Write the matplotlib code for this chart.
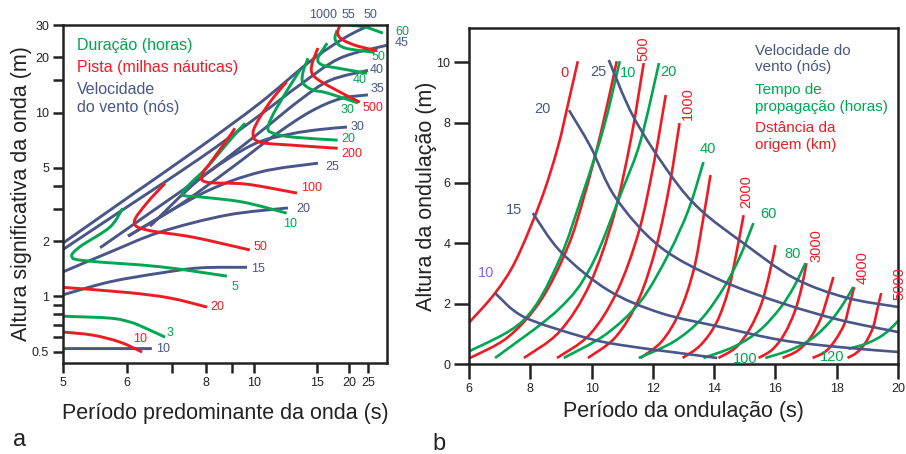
import numpy as np
import matplotlib
matplotlib.use("Agg")
import matplotlib.pyplot as plt
from matplotlib.ticker import FixedLocator, FixedFormatter, NullLocator
from matplotlib.path import Path
from matplotlib.patches import PathPatch
from matplotlib.transforms import IdentityTransform

plt.rcParams['font.family'] = ['Liberation Sans', 'DejaVu Sans']

VERM = '#ed1c24'
VERDE = '#00a651'
AZUL = '#4a5687'
LILAS = '#7f69e6'

# ---------------- (a) periodo predominante x altura significativa ----------------
# velocidade do vento (nos)
a_vento_nos = [10, 15, 20, 25, 30, 35, 40, 45, 50]
a_vento_T = [[5.0, 5.8, 6.52],
             [5.0, 5.70, 6.71, 7.81, 9.67],
             [5.0, 5.70, 6.71, 8.77, 12.2],
             [6.03, 7.90, 10.35, 15.1],
             [6.48, 7.81, 9.92, 12.36, 15.35, 19.6],
             [6.03, 7.21, 8.90, 11.27, 14.2, 18.3, 25.0],
             [5.54, 6.48, 8.14, 10.35, 13.2, 16.7, 25.0],
             [5.0, 6.07, 7.81, 10.35, 13.2, 18.3, 33.9],
             [5.0, 6.07, 7.81, 10.35, 14.2, 19.2, 25.7]]
a_vento_H = [[0.52, 0.52, 0.52],
             [1.02, 1.20, 1.34, 1.43, 1.44],
             [1.36, 1.74, 2.24, 2.77, 3.03],
             [2.13, 3.65, 4.75, 5.31],
             [2.41, 4.37, 6.67, 7.64, 8.1, 8.35],
             [2.13, 3.15, 4.94, 7.57, 10.1, 11.9, 12.5],
             [1.84, 2.85, 4.83, 7.84, 11.7, 15.0, 17.0],
             [1.80, 3.15, 5.65, 9.72, 14.15, 19.8, 23.35],
             [1.95, 3.52, 6.5, 11.3, 19.0, 25.6, 30.0]]

# duracao (horas)
a_duracao_h = [3, 5, 10, 20, 30, 40, 50, 60]
a_duracao_T = [[5.0, 5.70, 6.07, 6.33, 6.83],
               [5.93, 5.70, 5.23, 5.12, 5.34, 6.71, 8.77],
               [9.57, 8.90, 8.04, 7.41, 7.30, 7.81, 9.47, 12.1],
               [13.2, 11.4, 10.82, 11.13, 12.6, 17.9],
               [14.0, 13.5, 13.5, 14.5, 16.3, 22.1],
               [16.3, 15.1, 15.6, 17.8, 24.7],
               [17.8, 17.5, 19.2, 27.5],
               [19.8, 24.1, 31.1]]
a_duracao_H = [[0.78, 0.762, 0.725, 0.681, 0.600],
               [3.02, 2.38, 1.86, 1.64, 1.56, 1.45, 1.29],
               [8.77, 7.09, 5.05, 3.94, 3.56, 3.48, 3.26, 2.84],
               [17.0, 10.7, 8.36, 7.74, 7.36, 7.09],
               [19.8, 16.6, 14.5, 13.3, 12.8, 11.3],
               [23.9, 19.8, 18.2, 17.5, 16.4],
               [28.1, 24.9, 22.5, 21.3],
               [30.0, 29.25, 27.1]]

# pista (milhas nauticas)
a_pista_mn = [10, 20, 50, 100, 200, 500, 1000]
a_pista_T = [[5.0, 5.43, 5.88, 6.31],
             [5.0, 6.02, 6.95, 8.04],
             [6.83, 6.41, 6.15, 6.41, 7.59, 9.81],
             [9.11, 8.77, 8.14, 7.87, 8.04, 9.66, 12.95],
             [12.1, 11.13, 10.35, 9.97, 10.35, 12.6, 17.9],
             [15.1, 14.4, 14.55, 16.3, 22.6],
             [18.3, 17.9, 18.8, 22.1, 28.4]]
a_pista_H = [[0.64, 0.615, 0.564, 0.498],
             [1.12, 1.05, 0.98, 0.875],
             [4.13, 3.22, 2.54, 2.30, 2.10, 1.79],
             [8.23, 7.09, 5.31, 4.58, 4.18, 4.08, 3.65],
             [14.7, 12.0, 9.45, 7.74, 6.91, 6.65, 6.40],
             [22.5, 18.2, 16.0, 14.1, 11.4],
             [30.0, 27.0, 24.9, 23.0, 21.8]]

a_xticks = [5, 6, 7, 8, 9, 10, 15, 20, 25]
a_xticklabels = ['5', '6', '', '8', '', '10', '15', '20', '25']
a_yticks = [0.5, 0.6, 0.7, 0.8, 0.9, 1, 2, 3, 4, 5, 10, 15, 20, 30]
a_yticklabels = ['0.5', '', '', '', '', '1', '2', '', '', '5', '10', '', '20', '30']

# ---------------- (b) periodo da ondulacao x altura da ondulacao ----------------
b_vento_nos = [10, 15, 20, 25]
b_vento_T = [[6.85, 7.79, 9.75, 10.95, 12.9, 14.1],
             [8.08, 9.0, 10.53, 12.25, 14.2, 16.2, 18.1, 20.0],
             [9.26, 9.97, 10.79, 12.25, 14.2, 16.2, 18.1, 20.0],
             [10.56, 11.37, 12.58, 13.56, 14.96, 16.6, 18.3, 20.0]]
b_vento_H = [[2.35, 1.56, 0.89, 0.63, 0.36, 0.20],
             [5.0, 3.71, 2.45, 1.69, 1.23, 0.79, 0.56, 0.40],
             [8.41, 7.19, 5.5, 3.87, 2.78, 2.02, 1.46, 1.06],
             [10.07, 8.18, 6.26, 5.1, 4.0, 2.85, 2.2, 1.89]]

# tempo de propagacao (horas)
b_tempo_h = [10, 20, 40, 60, 80, 100, 120]
b_tempo_T = [[6.03, 7.79, 8.9, 9.75, 10.4, 10.92],
             [6.85, 8.9, 9.97, 11.0, 11.6, 12.2],
             [9.09, 10.46, 11.60, 12.51, 13.17, 13.65],
             [11.54, 12.68, 13.59, 14.34, 14.86, 15.28],
             [13.65, 14.66, 15.48, 16.16, 16.62, 16.98],
             [15.67, 16.52, 17.24, 17.82, 18.21, 18.54],
             [18.38, 19.0, 19.52, 19.94, 20.23, 20.46]]
b_tempo_H = [[0.43, 1.46, 3.34, 5.76, 7.85, 10.03],
             [0.2, 1.79, 3.21, 5.76, 7.4, 9.97],
             [0.2, 0.98, 2.08, 3.64, 5.13, 6.69],
             [0.2, 0.74, 1.50, 2.57, 3.60, 4.67],
             [0.2, 0.58, 1.11, 1.86, 2.59, 3.34],
             [0.2, 0.48, 0.88, 1.45, 1.99, 2.55],
             [0.5, 0.69, 0.97, 1.36, 1.73, 2.12]]

# distancia da origem (km)
b_dist_km = [0, 250, 500, 750, 1000, 1500, 2000, 2500, 3000, 3500, 4000, 4500]
b_dist_T = [[6.0, 6.85, 7.53, 8.35, 8.90, 9.26, 9.55],
            [6.03, 7.27, 8.35, 9.22, 9.75, 10.3, 10.82],
            [7.79, 8.96, 9.94, 10.72, 11.28, 11.70],
            [8.87, 9.94, 10.82, 11.54, 12.03, 12.42],
            [9.88, 10.79, 11.54, 12.12, 12.55, 12.87],
            [11.60, 12.29, 12.87, 13.33, 13.62, 13.88],
            [12.97, 13.56, 14.08, 14.47, 14.73, 14.96],
            [14.14, 14.70, 15.15, 15.54, 15.80, 16.0],
            [15.45, 15.90, 16.29, 16.62, 16.85, 17.01],
            [16.23, 16.72, 17.14, 17.47, 17.69, 17.89],
            [17.21, 17.63, 17.95, 18.25, 18.41, 18.57],
            [18.35, 18.67, 18.96, 19.19, 19.32, 19.45]]
b_dist_H = [[1.37, 2.35, 3.44, 5.43, 7.19, 8.74, 10.03],
            [0.2, 0.89, 2.12, 3.87, 5.53, 7.65, 10.03],
            [0.2, 1.08, 2.64, 4.89, 7.43, 9.97],
            [0.2, 0.98, 2.38, 4.38, 6.64, 8.91],
            [0.2, 0.90, 2.15, 3.93, 5.96, 7.98],
            [0.2, 0.75, 1.72, 3.11, 4.68, 6.26],
            [0.2, 0.63, 1.38, 2.47, 3.70, 4.93],
            [0.2, 0.54, 1.14, 1.99, 2.97, 3.94],
            [0.2, 0.48, 0.99, 1.71, 2.52, 3.34],
            [0.2, 0.44, 0.87, 1.49, 2.18, 2.88],
            [0.2, 0.41, 0.79, 1.33, 1.94, 2.55],
            [0.2, 0.39, 0.74, 1.23, 1.79, 2.35]]


def inv_t(t):
    t = np.asarray(t, dtype=float)
    with np.errstate(divide='ignore'):
        return -1.0 / t


def curva(ax, T, H, cor, lw):
    # traço suave (Catmull-Rom) passando pelos pontos lidos, em coordenadas de tela
    p = ax.transData.transform(np.column_stack([T, H]))
    n = len(p)
    verts = [p[0]]
    codes = [Path.MOVETO]
    for i in range(n - 1):
        p0, p1 = p[max(i - 1, 0)], p[i]
        p2, p3 = p[i + 1], p[min(i + 2, n - 1)]
        verts += [p1 + (p2 - p0) / 6.0, p2 - (p3 - p1) / 6.0, p2]
        codes += [Path.CURVE4] * 3
    patch = PathPatch(Path(verts, codes), facecolor='none', edgecolor=cor, lw=lw,
                      transform=IdentityTransform(), capstyle='butt', joinstyle='round')
    patch.set_clip_path(ax.patch)
    ax.add_artist(patch)


fig = plt.figure(figsize=(9.06, 4.54), dpi=100)

# ===== painel a =====
ax = fig.add_axes([0.0695, 0.2004, 0.3576, 0.7445])
ax.set_xscale('function', functions=(inv_t, inv_t))
ax.set_yscale('log')
ax.set_xlim(5, 33.3)
ax.set_ylim(0.434, 30)

for T, H in zip(a_vento_T, a_vento_H):
    curva(ax, T, H, AZUL, 2.1)
for T, H in zip(a_duracao_T, a_duracao_H):
    curva(ax, T, H, VERDE, 2.1)
for T, H in zip(a_pista_T, a_pista_H):
    curva(ax, T, H, VERM, 2.1)

rot_a = [('1000', 15.7, 34.0, AZUL), ('55', 19.8, 34.0, AZUL), ('50', 25.7, 34.0, AZUL),
         ('60', 45.2, 27.4, VERDE), ('45', 45.2, 23.9, AZUL),
         ('50', 28.8, 20.1, VERDE), ('40', 28.4, 17.0, AZUL), ('40', 22.6, 15.0, VERDE),
         ('35', 28.4, 13.4, AZUL), ('30', 19.8, 10.3, VERDE), ('500', 26.8, 10.6, VERM),
         ('30', 22.1, 8.35, AZUL), ('20', 19.8, 7.18, VERDE), ('200', 20.7, 5.95, VERM),
         ('25', 17.0, 5.06, AZUL), ('100', 14.4, 3.89, VERM), ('20', 13.5, 2.99, AZUL),
         ('10', 12.36, 2.48, VERDE), ('50', 10.35, 1.85, VERM), ('15', 10.24, 1.41, AZUL),
         ('5', 9.11, 1.12, VERDE), ('20', 8.39, 0.875, VERM), ('3', 6.95, 0.632, VERDE),
         ('10', 6.27, 0.586, VERM), ('10', 6.78, 0.517, AZUL)]
for txt, T, H, c in rot_a:
    ax.text(T, H, txt, color=c, fontsize=9, ha='center', va='center', clip_on=False)

ax.text(0.043, 0.939, 'Duração (horas)', color=VERDE, fontsize=11.5,
        transform=ax.transAxes, va='center')
ax.text(0.043, 0.874, 'Pista (milhas náuticas)', color=VERM, fontsize=11.5,
        transform=ax.transAxes, va='center')
ax.text(0.043, 0.783, 'Velocidade\ndo vento (nós)', color=AZUL, fontsize=11.5,
        transform=ax.transAxes, va='center', linespacing=1.2)

ax.xaxis.set_major_locator(FixedLocator(a_xticks))
ax.xaxis.set_major_formatter(FixedFormatter(a_xticklabels))
ax.xaxis.set_minor_locator(NullLocator())
ax.yaxis.set_major_locator(FixedLocator(a_yticks))
ax.yaxis.set_major_formatter(FixedFormatter(a_yticklabels))
ax.yaxis.set_minor_locator(NullLocator())
ax.tick_params(direction='out', length=7, width=1.8, labelsize=9, pad=3, colors='#222222')
for s in ax.spines.values():
    s.set_linewidth(1.8)
    s.set_color('#222222')
ax.set_xlabel('Período predominante da onda (s)', fontsize=15.5, color='#222222')
ax.set_ylabel('Altura significativa da onda (m)', fontsize=15.5, color='#222222')
ax.xaxis.set_label_coords(0.5, -0.118)
ax.yaxis.set_label_coords(-0.095, 0.5)

# ===== painel b =====
bx = fig.add_axes([0.5177, 0.1982, 0.4735, 0.7401])
bx.set_xlim(6, 20)
bx.set_ylim(0, 11.13)

for T, H in zip(b_dist_T, b_dist_H):
    curva(bx, T, H, VERM, 1.9)
for T, H in zip(b_tempo_T, b_tempo_H):
    curva(bx, T, H, VERDE, 1.9)
for T, H in zip(b_vento_T, b_vento_H):
    curva(bx, T, H, AZUL, 1.9)

rot_b = [('0', 9.13, 9.64, VERM, 0), ('25', 10.23, 9.67, AZUL, 0), ('10', 11.18, 9.64, VERDE, 0),
         ('500', 11.70, 10.45, VERM, 90), ('20', 12.51, 9.67, VERDE, 0),
         ('1000', 13.13, 8.64, VERM, 90), ('40', 13.79, 7.12, VERDE, 0),
         ('2000', 15.06, 5.70, VERM, 90), ('60', 15.77, 4.97, VERDE, 0),
         ('80', 16.55, 3.64, VERDE, 0), ('3000', 17.34, 3.94, VERM, 90),
         ('4000', 18.83, 3.18, VERM, 90), ('5000', 20.05, 2.65, VERM, 90),
         ('100', 15.02, 0.17, VERDE, 0), ('120', 17.86, 0.23, VERDE, 0),
         ('15', 7.47, 5.10, AZUL, 0), ('10', 6.55, 3.01, LILAS, 0), ('20', 8.38, 8.44, AZUL, 0)]
for txt, T, H, c, r in rot_b:
    bx.text(T, H, txt, color=c, fontsize=10.5, ha='center', va='center', rotation=r,
            clip_on=False)

bx.text(0.667, 0.908, 'Velocidade do\nvento (nós)', color=AZUL, fontsize=11,
        transform=bx.transAxes, va='center', linespacing=1.2)
bx.text(0.667, 0.790, 'Tempo de\npropagação (horas)', color=VERDE, fontsize=11,
        transform=bx.transAxes, va='center', linespacing=1.2)
bx.text(0.667, 0.677, 'Dstância da\norigem (km)', color=VERM, fontsize=11,
        transform=bx.transAxes, va='center', linespacing=1.2)

bx.set_xticks(np.arange(6, 21, 2))
bx.set_yticks(np.arange(0, 11, 2))
bx.tick_params(direction='out', length=11, width=1.8, labelsize=9, pad=2.5, colors='#222222')
for s in bx.spines.values():
    s.set_linewidth(1.8)
    s.set_color('#222222')
bx.set_xlabel('Período da ondulação (s)', fontsize=15.5, color='#222222')
bx.set_ylabel('Altura da ondulação (m)', fontsize=15.5, color='#222222')
bx.xaxis.set_label_coords(0.5, -0.11)
bx.yaxis.set_label_coords(-0.075, 0.5)

fig.text(0.0143, 0.0176, 'a', fontsize=17, color='#222222', va='baseline')
fig.text(0.477, 0.0088, 'b', fontsize=17, color='#222222', va='baseline')

fig.savefig('out.png', dpi=100)
